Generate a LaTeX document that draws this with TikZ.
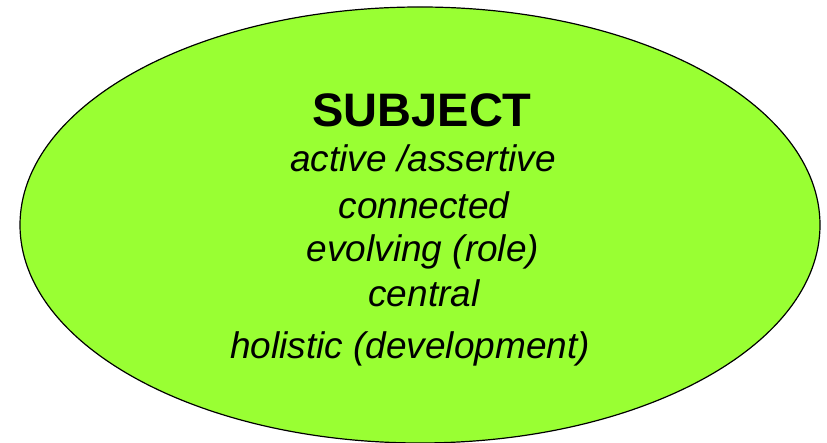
\documentclass[tikz,border=0pt]{standalone}
\usepackage{fontspec}
\setmainfont{Liberation Sans}
\usetikzlibrary{shapes.geometric}
\definecolor{subjgreen}{HTML}{99FF33}
\newcommand{\Word}[3]% pos, name, text
{\node[anchor=base,inner sep=0pt,font=\fontsize{37}{42}\selectfont\itshape] (#2) at (#1) {#3};
}
\begin{document}
\begin{tikzpicture}[x=1pt,y=1pt]
  \useasboundingbox (0,0) rectangle (827,443);
  \node[ellipse,draw,fill=subjgreen,line width=1.2pt,minimum width=800pt,minimum height=436pt,inner sep=0] (subject) at (420,218) {};
  \node[anchor=base,inner sep=0pt,font=\fontsize{47}{52}\selectfont\bfseries] (title) at (422,316.3) {SUBJECT};
  \Word{423,271.3}{active}{active /assertive}
  \Word{424,224.7}{connected}{connected}
  \Word{423,181.3}{evolving}{evolving (role)}
  \Word{424,136.3}{central}{central}
  \Word{410,84.7}{holistic}{holistic (development)}
\end{tikzpicture}
\end{document}
